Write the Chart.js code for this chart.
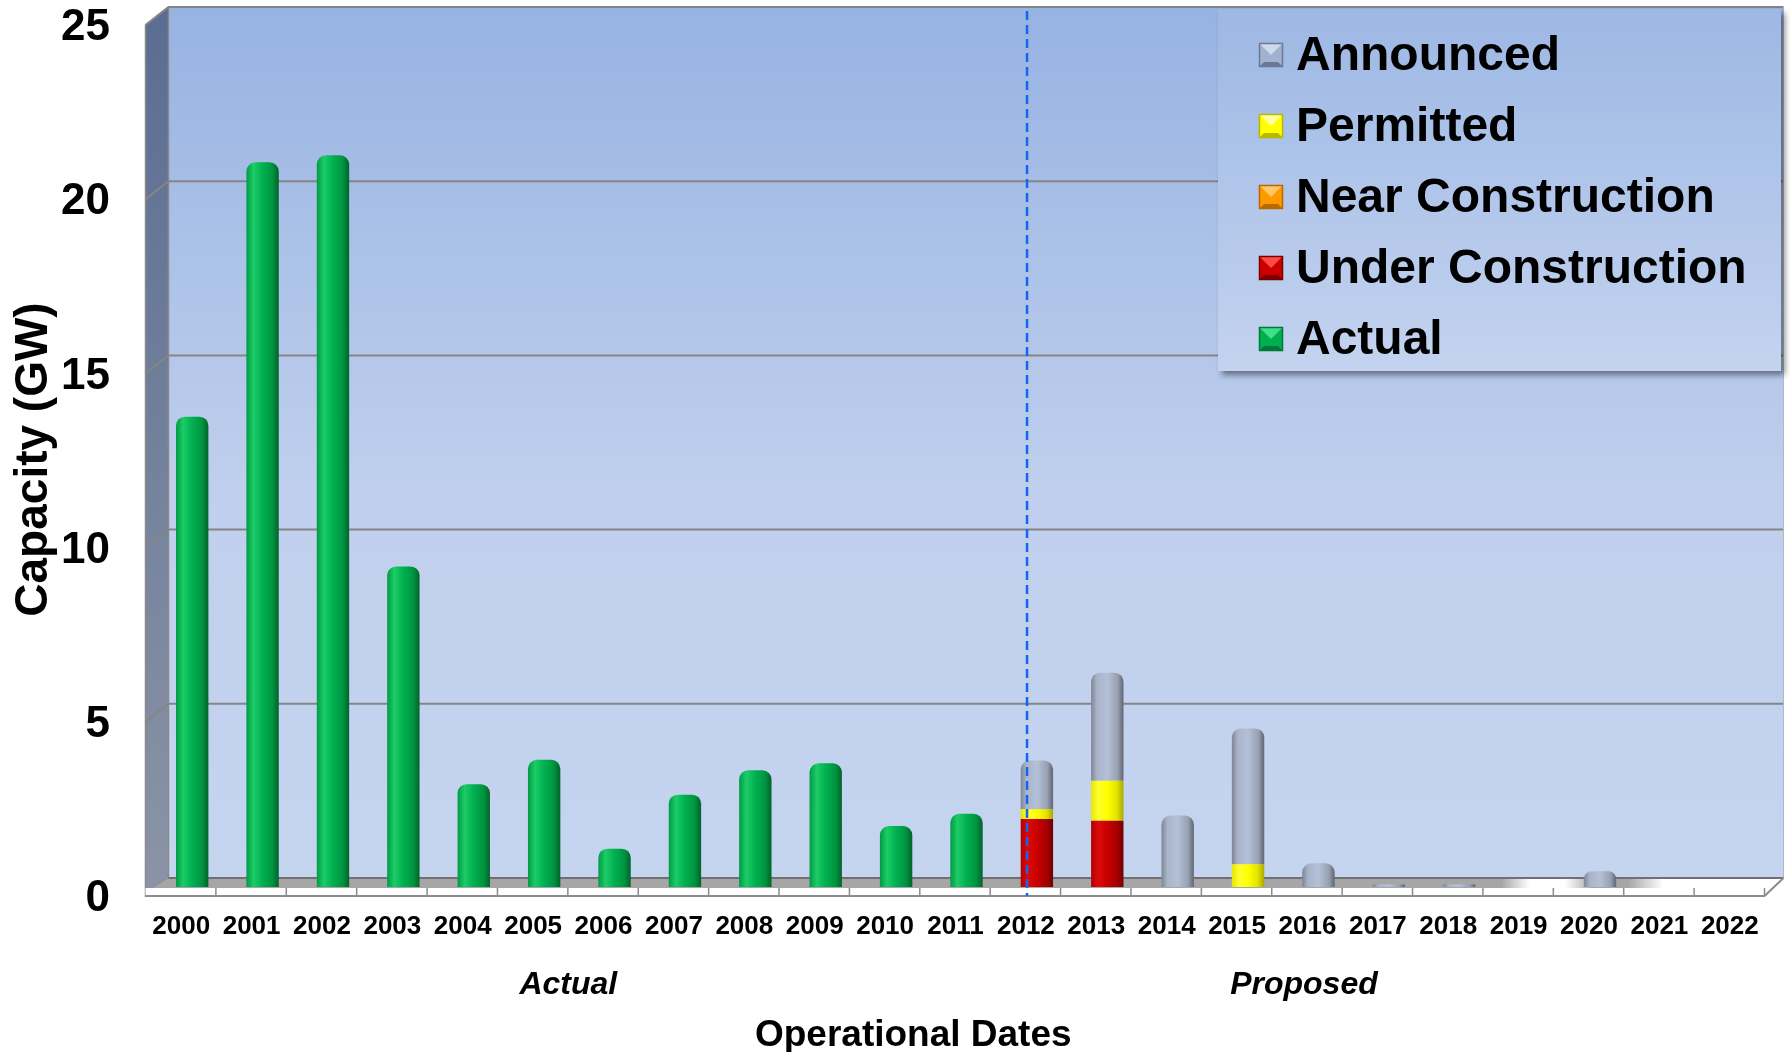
<!DOCTYPE html>
<html>
<head>
<meta charset="utf-8">
<script src="https://cdn.jsdelivr.net/npm/chart.js@4.4.1/dist/chart.umd.min.js"></script>
<style>
  html, body { margin: 0; padding: 0; background: #ffffff; }
  #wrap { width: 1790px; height: 1052px; position: relative; }
</style>
</head>
<body>
<div id="wrap"><canvas id="c" width="1790" height="1052"></canvas></div>
<script>
// ---------------- DATA ----------------
const years = ['2000','2001','2002','2003','2004','2005','2006','2007','2008','2009','2010','2011',
               '2012','2013','2014','2015','2016','2017','2018','2019','2020','2021','2022'];
const actual            = [13.5, 20.8, 21.0, 9.2, 2.95, 3.65, 1.1, 2.65, 3.35, 3.55, 1.75, 2.1, 0, 0, 0, 0, 0, 0, 0, 0, 0, 0, 0];
const underConstruction = [0, 0, 0, 0, 0, 0, 0, 0, 0, 0, 0, 0, 1.95, 1.9, 0, 0, 0, 0, 0, 0, 0, 0, 0];
const nearConstruction  = [0, 0, 0, 0, 0, 0, 0, 0, 0, 0, 0, 0, 0, 0, 0, 0, 0, 0, 0, 0, 0, 0, 0];
const permitted         = [0, 0, 0, 0, 0, 0, 0, 0, 0, 0, 0, 0, 0.28, 1.15, 0, 0.65, 0, 0, 0, 0, 0, 0, 0];
const announced         = [0, 0, 0, 0, 0, 0, 0, 0, 0, 0, 0, 0, 1.4, 3.1, 2.05, 3.9, 0.68, 0.08, 0.08, 0, 0.45, 0, 0];
const yTicks = [0, 5, 10, 15, 20, 25];
const seriesNames = ['Actual', 'Under Construction', 'Near Construction', 'Permitted', 'Announced'];
const periodLabels = ['Actual', 'Proposed'];
const periodCenters = [5.5, 15.95];     // category positions of the period captions
const dividerAt = 11.86;                // category position of the dashed actual/proposed divider
const xAxisTitle = 'Operational Dates';
const xAxisTitleAt = 10.4;
const yAxisTitle = 'Capacity (GW)';

// ---------------- STYLE ----------------
const FONT = '"Liberation Sans", Arial, Helvetica, sans-serif';
const BAR_PCT = 0.46;
const DEPTH_X = 23, DEPTH_Y = 18;       // pseudo-3D depth of walls / floor
const LABEL_SHIFT = -11;                // front-plane shift of category labels

const palette = {
  'Actual':             { stops: [[0,'#009a45'],[0.22,'#1ccc66'],[0.5,'#00b050'],[0.8,'#009440'],[1,'#00642b']], swatch: {base:'#00b050', light:'#3fe089', dark:'#007a38'} },
  'Under Construction': { stops: [[0,'#b00000'],[0.22,'#dd0a0a'],[0.5,'#c80000'],[0.8,'#a80000'],[1,'#6e0000']], swatch: {base:'#cc0000', light:'#ff4a4a', dark:'#7a0000'} },
  'Near Construction':  { stops: [[0,'#e08000'],[0.22,'#ffad33'],[0.5,'#ff9900'],[0.8,'#e08000'],[1,'#a05a00']], swatch: {base:'#ff9900', light:'#ffc766', dark:'#b86a00'} },
  'Permitted':          { stops: [[0,'#e6e600'],[0.22,'#ffff30'],[0.5,'#ffff00'],[0.8,'#e2e200'],[1,'#a8a800']], swatch: {base:'#ffff00', light:'#ffffa0', dark:'#b8b800'} },
  'Announced':          { stops: [[0,'#7e8594'],[0.18,'#a9b4c9'],[0.5,'#b4c0d7'],[0.82,'#98a1b2'],[1,'#5f6570']], swatch: {base:'#a2b1cf', light:'#d0d9ea', dark:'#6b7895'} }
};

function cylinder(stops) {
  return function (ctx) {
    const chart = ctx.chart;
    const xs = chart.scales && chart.scales.x;
    if (ctx.type !== 'data' || !xs || !chart.chartArea || !xs.width) return stops[2][1];
    const cx = xs.getPixelForValue(ctx.dataIndex);
    const half = (xs.width / chart.data.labels.length) * BAR_PCT / 2;
    const g = chart.ctx.createLinearGradient(cx - half, 0, cx + half, 0);
    stops.forEach(([o, c]) => g.addColorStop(o, c));
    return g;
  };
}

const seriesValues = [actual, underConstruction, nearConstruction, permitted, announced];
const datasets = seriesNames.map((name, i) => ({
  label: name,
  data: seriesValues[i],
  backgroundColor: cylinder(palette[name].stops),
  swatch: palette[name].swatch,
  borderWidth: 0,
  borderRadius: 9,
  borderSkipped: 'start',
  barPercentage: BAR_PCT,
  categoryPercentage: 1.0
}));

// ---------------- PLUGINS ----------------
const frame3d = {
  id: 'frame3d',
  beforeDraw(chart) {
    const { ctx, chartArea: a, scales: { y } } = chart;
    const hx = DEPTH_X / 2, hy = DEPTH_Y / 2;
    const L = a.left, R = a.right;
    const top = y.getPixelForValue(yTicks[yTicks.length - 1]);
    const base = y.getPixelForValue(0);
    const wallR = R + hx - 4;
    ctx.save();
    ctx.fillStyle = '#ffffff';
    ctx.fillRect(0, 0, chart.width, chart.height);

    // back wall
    const g = ctx.createLinearGradient(0, top - hy, 0, base - hy);
    g.addColorStop(0, '#97b3e2');
    g.addColorStop(0.55, '#bfcfed');
    g.addColorStop(1, '#c5d4ef');
    ctx.fillStyle = g;
    ctx.fillRect(L + hx, top - hy, wallR - (L + hx), base - top);

    // side wall
    const sg = ctx.createLinearGradient(0, top, 0, base);
    sg.addColorStop(0, '#5a6d92');
    sg.addColorStop(1, '#8b94a6');
    ctx.fillStyle = sg;
    ctx.beginPath();
    ctx.moveTo(L - hx, top + hy);
    ctx.lineTo(L + hx, top - hy);
    ctx.lineTo(L + hx, base - hy);
    ctx.lineTo(L - hx, base + hy);
    ctx.closePath();
    ctx.fill();
    ctx.strokeStyle = '#8a8a8a';
    ctx.lineWidth = 1.5;
    ctx.stroke();

    // gridlines (back wall + side wall)
    ctx.strokeStyle = '#858585';
    ctx.lineWidth = 2;
    yTicks.forEach(v => {
      if (v === 0) return;
      const yy = y.getPixelForValue(v);
      ctx.beginPath();
      ctx.moveTo(L - hx, yy + hy);
      ctx.lineTo(L + hx, yy - hy);
      ctx.lineTo(wallR, yy - hy);
      ctx.stroke();
    });
    ctx.beginPath();
    ctx.moveTo(wallR, top - hy);
    ctx.lineTo(wallR, base - hy);
    ctx.strokeStyle = '#b0b8c8';
    ctx.lineWidth = 1;
    ctx.stroke();

    // floor (top surface)
    const fx0 = L - hx, fx1 = wallR;
    const fg = ctx.createLinearGradient(fx0, 0, fx1, 0);
    const fr = x => Math.min(1, Math.max(0, (x - fx0) / (fx1 - fx0)));
    const px = v => chart.scales.x.getPixelForValue(v);
    fg.addColorStop(0, '#a6a6a6');
    fg.addColorStop(fr(px(18.6)), '#a6a6a6');
    fg.addColorStop(fr(px(19.0)), '#ffffff');
    fg.addColorStop(fr(px(19.5)), '#ffffff');
    fg.addColorStop(fr(px(19.9)), '#a6a6a6');
    fg.addColorStop(fr(px(20.4)), '#a6a6a6');
    fg.addColorStop(fr(px(20.9)), '#ffffff');
    fg.addColorStop(1, '#ffffff');
    ctx.fillStyle = fg;
    ctx.beginPath();
    ctx.moveTo(L + hx, base - hy);
    ctx.lineTo(wallR, base - hy);
    ctx.lineTo(wallR - DEPTH_X * 0.6, base + 1);
    ctx.lineTo(L - hx + DEPTH_X * 0.35, base + 1);
    ctx.closePath();
    ctx.fill();
    ctx.beginPath();
    ctx.moveTo(L + hx, base - hy);
    ctx.lineTo(wallR, base - hy);
    ctx.strokeStyle = '#707070';
    ctx.lineWidth = 2;
    ctx.stroke();
    // front strip
    ctx.fillStyle = '#ffffff';
    ctx.fillRect(L - hx, base + 1, R - L, hy - 2);
    ctx.beginPath();
    ctx.moveTo(L - hx, base + hy);
    ctx.lineTo(R - hx, base + hy);
    ctx.lineTo(wallR, base - hy);
    ctx.strokeStyle = '#8c8c8c';
    ctx.lineWidth = 2;
    ctx.stroke();
    const n = chart.data.labels.length;
    ctx.lineWidth = 1.5;
    for (let k = 1; k <= n; k++) {
      const xx = px(k - 0.5) - hx;
      ctx.beginPath();
      ctx.moveTo(xx, base + 1);
      ctx.lineTo(xx, base + hy);
      ctx.stroke();
    }
    ctx.restore();
  }
};

const divider = {
  id: 'divider',
  afterDatasetsDraw(chart) {
    const { ctx, scales: { x, y } } = chart;
    const xx = x.getPixelForValue(dividerAt);
    const top = y.getPixelForValue(yTicks[yTicks.length - 1]) - DEPTH_Y / 2 + 4;
    const bot = y.getPixelForValue(0) + DEPTH_Y / 2;
    ctx.save();
    ctx.strokeStyle = '#1466f0';
    ctx.lineWidth = 2.5;
    ctx.setLineDash([9, 5]);
    ctx.beginPath();
    ctx.moveTo(xx, top);
    ctx.lineTo(xx, bot);
    ctx.stroke();
    ctx.restore();
  }
};

const captions = {
  id: 'captions',
  afterDraw(chart) {
    const { ctx, scales: { x, y } } = chart;
    ctx.save();
    ctx.fillStyle = '#000000';
    ctx.textAlign = 'center';
    ctx.textBaseline = 'middle';
    ctx.font = 'italic bold 32px ' + FONT;
    periodLabels.forEach((t, i) => {
      ctx.fillText(t, x.getPixelForValue(periodCenters[i]) + LABEL_SHIFT, 985);
    });
    ctx.font = 'bold 37px ' + FONT;
    ctx.fillText(xAxisTitle, x.getPixelForValue(xAxisTitleAt) + LABEL_SHIFT, 1036);
    // y axis title
    ctx.save();
    ctx.translate(34, (y.top + y.bottom) / 2 + 8);
    ctx.rotate(-Math.PI / 2);
    ctx.font = 'bold 46px ' + FONT;
    ctx.fillText(yAxisTitle, 0, 0);
    ctx.restore();
    ctx.restore();
  }
};

function drawSwatch(ctx, x, y, s, c) {
  ctx.fillStyle = c.base;
  ctx.fillRect(x, y, s, s);
  const m = s / 2;
  ctx.fillStyle = c.light;
  ctx.beginPath(); ctx.moveTo(x, y); ctx.lineTo(x + s, y); ctx.lineTo(x + s - 5, y + 5); ctx.lineTo(x + 5, y + 5); ctx.closePath(); ctx.fill();
  ctx.beginPath(); ctx.moveTo(x + 5, y + 5); ctx.lineTo(x + s - 5, y + 5); ctx.lineTo(x + m, y + m); ctx.closePath(); ctx.fill();
  ctx.fillStyle = c.dark;
  ctx.beginPath(); ctx.moveTo(x, y + s); ctx.lineTo(x + s, y + s); ctx.lineTo(x + s - 5, y + s - 5); ctx.lineTo(x + 5, y + s - 5); ctx.closePath(); ctx.fill();
  ctx.strokeStyle = c.dark;
  ctx.lineWidth = 1.5;
  ctx.strokeRect(x + 0.5, y + 0.5, s - 1, s - 1);
}

const legendBox = {
  id: 'legendBox',
  afterDraw(chart) {
    const { ctx } = chart;
    const bx = 1218, by = 9, bw = 563, bh = 362;
    ctx.save();
    ctx.shadowColor = 'rgba(0,0,0,0.45)';
    ctx.shadowBlur = 6;
    ctx.shadowOffsetX = 4;
    ctx.shadowOffsetY = 4;
    const g = ctx.createLinearGradient(0, by, 0, by + bh);
    g.addColorStop(0, '#9db8e4');
    g.addColorStop(1, '#c4d3ef');
    ctx.fillStyle = g;
    ctx.fillRect(bx, by, bw, bh);
    ctx.restore();
    ctx.save();
    ctx.font = 'bold 48px ' + FONT;
    ctx.textBaseline = 'middle';
    ctx.textAlign = 'left';
    chart.data.datasets.slice().reverse().forEach((ds, i) => {
      const cy = by + 46 + i * 71;
      drawSwatch(ctx, bx + 41, cy - 12, 24, ds.swatch);
      ctx.fillStyle = '#000000';
      ctx.fillText(ds.label, bx + 78, cy + 2);
    });
    ctx.restore();
  }
};

// ---------------- CHART ----------------
new Chart(document.getElementById('c'), {
  type: 'bar',
  data: { labels: years, datasets },
  options: {
    responsive: false,
    animation: false,
    devicePixelRatio: 1,
    layout: { padding: { top: 16, right: 14, left: 0, bottom: 0 } },
    plugins: { legend: { display: false }, tooltip: { enabled: false } },
    scales: {
      x: {
        stacked: true,
        grid: { display: false, drawTicks: false },
        border: { display: false },
        ticks: {
          color: '#000000',
          font: { family: FONT, size: 26, weight: 'bold' },
          padding: 24,
          labelOffset: LABEL_SHIFT,
          maxRotation: 0,
          autoSkip: false
        },
        afterFit(s) { s.height = 165; s.paddingLeft = 0; s.paddingRight = 0; }
      },
      y: {
        stacked: true,
        min: 0,
        max: 25,
        afterBuildTicks(s) { s.ticks = yTicks.map(v => ({ value: v })); },
        grid: { display: false, drawTicks: false },
        border: { display: false },
        ticks: {
          color: '#000000',
          font: { family: FONT, size: 44, weight: 'bold' },
          padding: 47,
          labelOffset: 12
        },
        afterFit(s) { s.width = 157; s.paddingTop = 0; s.paddingBottom = 0; }
      }
    }
  },
  plugins: [frame3d, divider, captions, legendBox]
});
</script>
</body>
</html>
